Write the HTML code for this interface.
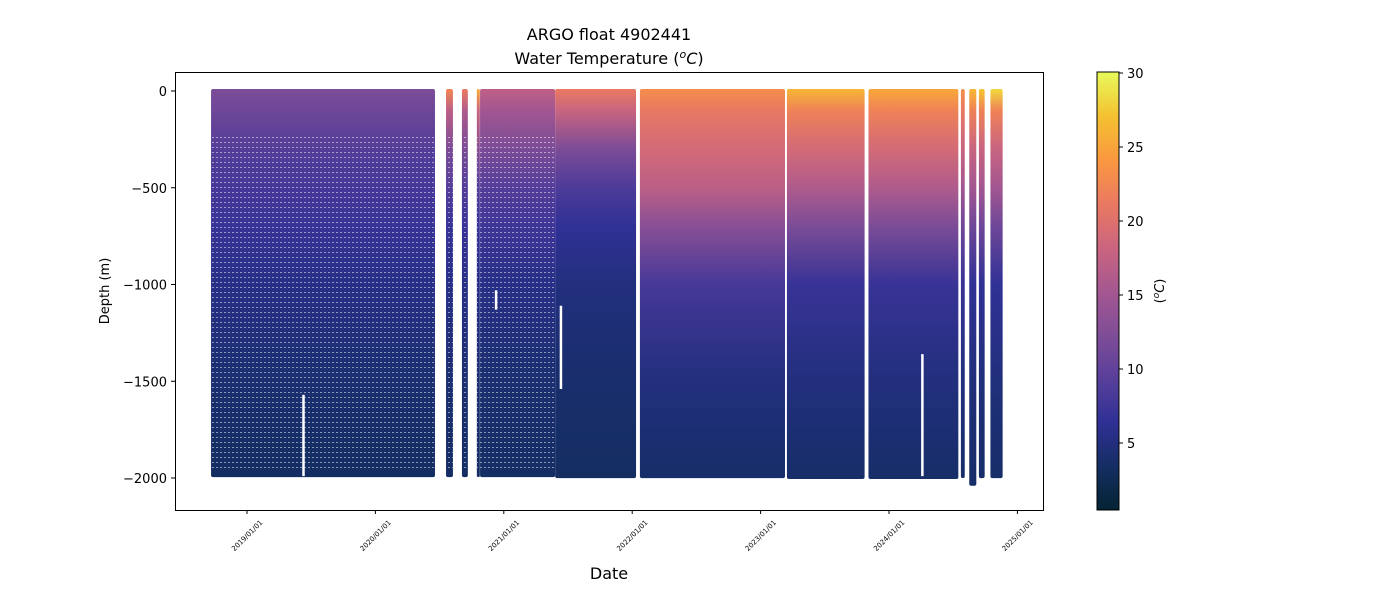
<!DOCTYPE html>
<html><head><meta charset="utf-8"><style>
body{margin:0;background:#fff;font-family:"Liberation Sans","DejaVu Sans",sans-serif}
svg text{font-family:"DejaVu Sans","Liberation Sans",sans-serif}
</style></head><body>
<svg id="chart" width="1400" height="600">
<defs>
<pattern id="dots" width="4" height="5" patternUnits="userSpaceOnUse"><rect x="0" y="2" width="2" height="1" fill="#fff" opacity="0.5"/></pattern>
<linearGradient id="cbgrad" x1="0" y1="1" x2="0" y2="0"></linearGradient>
</defs>
<text x="609" y="40" font-size="16" text-anchor="middle">ARGO float 4902441</text>
<text x="609" y="64" font-size="16" text-anchor="middle">Water Temperature (<tspan font-style="italic" font-size="11" dy="-6">o</tspan><tspan font-style="italic" dy="6">C</tspan>)</text>
<g id="plot"></g>
<rect x="175.5" y="72.5" width="868" height="438" fill="none" stroke="#000" stroke-width="1"/>
<g id="axes"></g>
<text x="609" y="579" font-size="16" text-anchor="middle">Date</text>
<text transform="translate(109,291) rotate(-90)" font-size="13" text-anchor="middle">Depth (m)</text>
<rect x="1097" y="72" width="22" height="438" fill="url(#cbgrad)" stroke="#000" stroke-width="1"/>
<g id="cbticks"></g>
<text transform="translate(1164,291) rotate(-90)" font-size="13" text-anchor="middle">(<tspan font-style="italic" font-size="9" dy="-5">o</tspan><tspan font-style="italic" dy="5">C</tspan>)</text>
</svg>
<script>
const depthLevels = [0, 100, 300, 500, 700, 1000, 1500, 2000];
const segStart = [2018.72, 2020.55, 2020.674, 2020.79, 2020.815, 2021.40, 2022.06, 2023.205, 2023.84, 2024.56, 2024.625, 2024.70, 2024.79];
const segEnd   = [2020.464, 2020.604, 2020.72, 2020.81, 2021.40, 2022.03, 2023.19, 2023.81, 2024.54, 2024.59, 2024.68, 2024.745, 2024.885];
const segTemp = [
 [12, 11, 9, 8, 7, 5.5, 4.2, 3.3],
 [22, 17, 12, 9, 7, 5.5, 4.3, 3.5],
 [21, 16, 12, 9, 7, 5.5, 4.3, 3.5],
 [25, 18, 13, 9, 7, 5.5, 4.3, 3.5],
 [17, 15, 12, 9, 7.5, 5.5, 4.2, 3.5],
 [21, 18, 12, 8.5, 6.5, 5, 4, 3.4],
 [23, 21, 19, 17, 13, 8, 5, 3.8],
 [26, 22, 19, 16, 12, 7, 5, 3.8],
 [25, 22, 19, 16, 12, 7, 5, 3.8],
 [23, 21, 18, 15, 11, 7, 5, 3.8],
 [26, 22, 18, 15, 11, 6.5, 4.8, 3.8],
 [27, 22, 18, 15, 11, 6.5, 4.8, 3.8],
 [28, 22, 18, 15, 11, 6.5, 4.8, 3.8]
];
const segMaxDepth = [1985, 1985, 1985, 1985, 1985, 1990, 1990, 1995, 1995, 1990, 2030, 1990, 1990];
const dottedSegs = [true, true, true, true, true, false, false, false, false, false, false, false, false];
const gapLineYear = [2019.44, 2020.94, 2021.445, 2024.26];
const gapLineTop = [1570, 1030, 1110, 1360];
const gapLineBottom = [1990, 1130, 1540, 1990];
const xTickYears = [2019, 2020, 2021, 2022, 2023, 2024, 2025];
const yTicks = [0, -500, -1000, -1500, -2000];
const cbTicks = [5, 10, 15, 20, 25, 30];

const NS = "http://www.w3.org/2000/svg";
const xS = yr => 247 + (yr - 2019) * 128.4;
const yS = d => 91 + (-d) * (387 / 2000);
const cbY = v => 73 + (30 - v) * 14.8;
const stops = [[4,35,51],[20,46,99],[47,48,149],[89,63,154],[127,77,151],[165,87,144],[203,101,127],[234,121,97],[250,152,63],[244,193,49],[232,250,91]];
function cmap(v){
  let t = Math.max(0, Math.min(1, (v - 0.5) / 29.5)) * 10;
  const i = Math.min(9, Math.floor(t)), f = t - i;
  const a = stops[i], b = stops[i+1];
  return `rgb(${a.map((c,k)=>Math.round(c+(b[k]-c)*f)).join(',')})`;
}
const svg = document.getElementById('chart');
const defs = svg.querySelector('defs');
const plot = document.getElementById('plot');
function mk(tag, attrs, parent){ const e = document.createElementNS(NS, tag); for (const k in attrs) e.setAttribute(k, attrs[k]); parent.appendChild(e); return e; }

const cbg = document.getElementById('cbgrad');
for (let i = 0; i <= 20; i++) {
  const v = 0.5 + 29.5 * i / 20;
  mk('stop', {offset: (i/20), 'stop-color': cmap(v)}, cbg);
}

segStart.forEach((s, i) => {
  const g = mk('linearGradient', {id: 'g' + i, x1: 0, x2: 0, y1: yS(0), y2: yS(-2000), gradientUnits: 'userSpaceOnUse'}, defs);
  depthLevels.forEach((d, k) => mk('stop', {offset: d / 2000, 'stop-color': cmap(segTemp[i][k])}, g));
  const x0 = xS(s), x1 = xS(segEnd[i]);
  const r = mk('rect', {x: x0, y: yS(0) - 2, width: Math.max(3, x1 - x0), height: yS(-segMaxDepth[i]) - yS(0) + 4, rx: 2, fill: 'url(#g' + i + ')'}, plot);
  
  
  if (dottedSegs[i]) {
    const p = mk('rect', {x: x0, y: yS(-220), width: x1 - x0, height: yS(-1960) - yS(-220), fill: 'url(#dots)'}, plot);
    
    
  }
});
gapLineYear.forEach((yr, i) => {
  const l = mk('line', {x1: xS(yr), x2: xS(yr), y1: yS(-gapLineTop[i]), y2: yS(-gapLineBottom[i]), stroke: '#fff', 'stroke-width': 2.5}, plot);
  
  
});

const axes = document.getElementById('axes');
xTickYears.forEach(y => {
  const x = xS(y);
  mk('line', {x1: x, x2: x, y1: 510, y2: 514, stroke: '#000'}, axes);
  const t = mk('text', {x: 0, y: 0, 'font-size': 7, 'text-anchor': 'end', transform: `translate(${x+16},${523}) rotate(-45)`}, axes);
  t.textContent = y + '/01/01';
  
  
});
yTicks.forEach(v => {
  const y = yS(v);
  mk('line', {x1: 171, x2: 175, y1: y, y2: y, stroke: '#000'}, axes);
  const t = mk('text', {x: 167, y: y + 5, 'font-size': 13, 'text-anchor': 'end'}, axes);
  t.textContent = v === 0 ? '0' : '\u2212' + Math.abs(v);
  
  
});
const cbt = document.getElementById('cbticks');
cbTicks.forEach(v => {
  const y = cbY(v);
  mk('line', {x1: 1119, x2: 1123, y1: y, y2: y, stroke: '#000'}, cbt);
  const t = mk('text', {x: 1127, y: y + 5, 'font-size': 13}, cbt);
  t.textContent = v;
  
  
});
</script>
</body></html>
